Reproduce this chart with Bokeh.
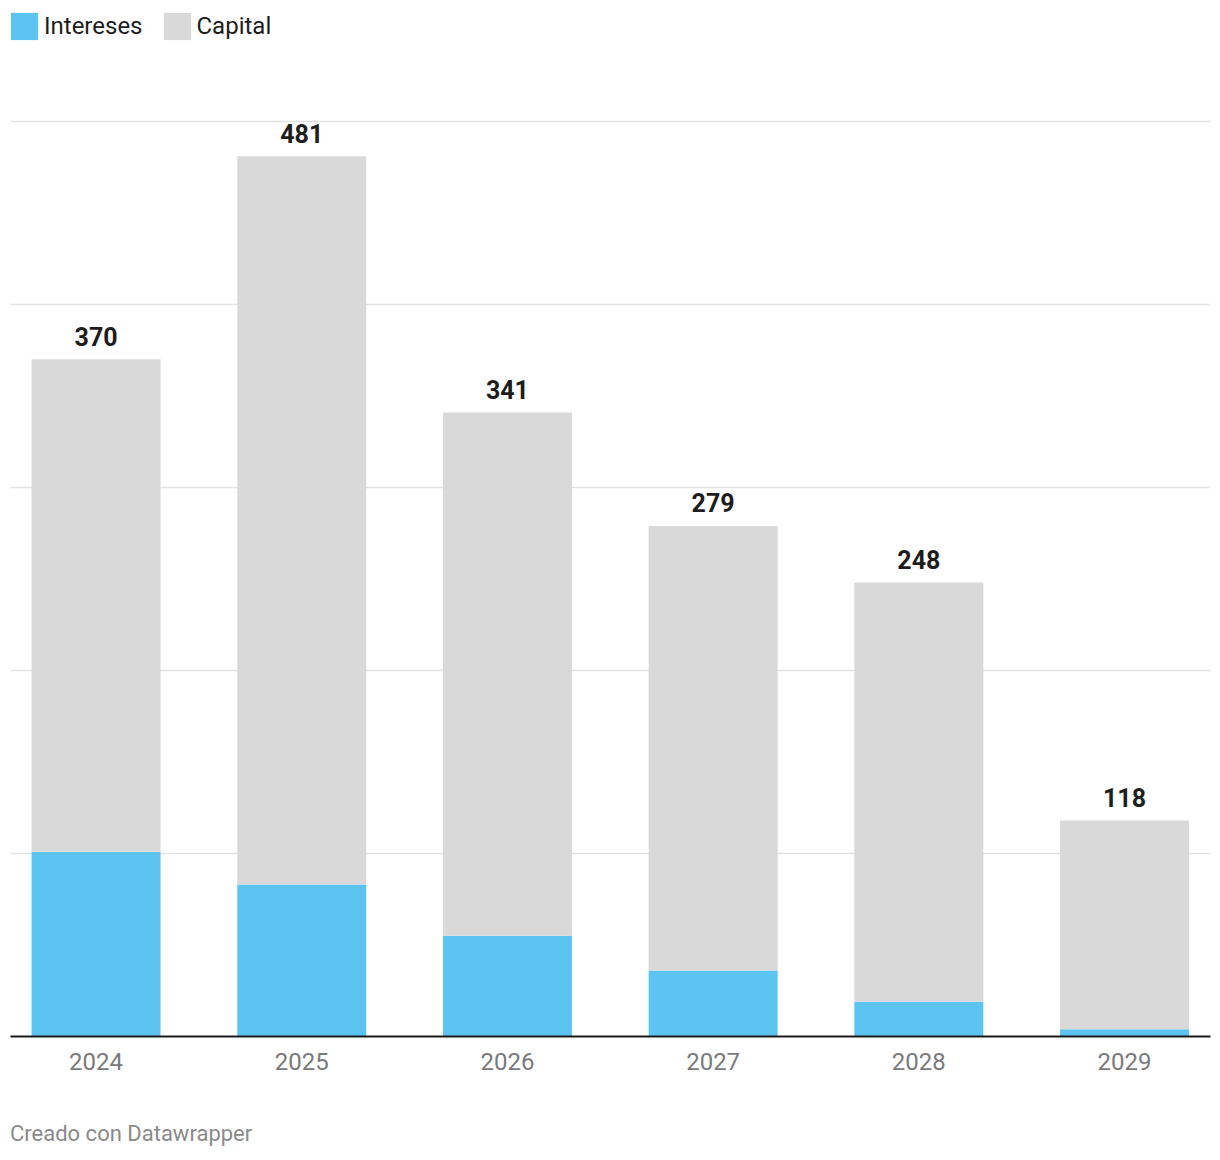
from bokeh.plotting import figure
from bokeh.models import ColumnDataSource, Range1d, Legend, LegendItem, FixedTicker, Div
from bokeh.layouts import column
from bokeh.core.properties import value
from bokeh.embed import file_html
from bokeh.resources import INLINE

years = ["2024", "2025", "2026", "2027", "2028", "2029"]
totals = [370, 481, 341, 279, 248, 118]
intereses = [101, 83, 55, 36, 19, 4]
capital = [269, 398, 286, 243, 229, 114]

xs = list(range(len(years)))
src = ColumnDataSource(dict(x=xs, intereses=intereses, capital=capital,
                            total=totals, lbl=[str(t) for t in totals]))

p = figure(width=1220, height=1080, output_backend="svg", toolbar_location=None,
           x_range=Range1d(-0.416, 5.418), y_range=Range1d(0, 561.7),
           min_border_left=10, min_border_right=10, min_border_top=8, min_border_bottom=44)
p.outline_line_color = None
p.background_fill_color = "white"
p.border_fill_color = "white"

rs = p.vbar_stack(["intereses", "capital"], x="x", width=0.627, source=src,
                  color=["#5bc4f1", "#d9d9d9"], line_color=None)

p.text(x="x", y="total", text="lbl", source=src, text_align="center",
       text_baseline="alphabetic", y_offset=-23, text_font=value("Roboto"),
       text_font_style="bold", text_font_size="25px", text_color="#1d1d1d")

p.yaxis.visible = False
p.xgrid.visible = False
p.ygrid.ticker = FixedTicker(ticks=[100, 200, 300, 400, 500])
p.ygrid.grid_line_color = "#e3e3e3"
p.ygrid.grid_line_width = 1.5

ax = p.xaxis[0]
ax.ticker = FixedTicker(ticks=xs)
ax.major_label_overrides = {i: y for i, y in enumerate(years)}
ax.major_tick_line_color = None
ax.minor_tick_line_color = None
ax.axis_line_color = "#1a1a1a"
ax.axis_line_width = 2
ax.major_label_text_font = "Roboto"
ax.major_label_text_font_size = "24px"
ax.major_label_text_color = "#7a7a7a"
ax.major_label_standoff = 10

legend = Legend(items=[LegendItem(label="Intereses", renderers=[rs[0]]),
                       LegendItem(label="Capital", renderers=[rs[1]])],
                location=(-3, 993), orientation="horizontal",
                margin=0, padding=0, spacing=17, glyph_width=34, glyph_height=34,
                label_standoff=3, label_height=34,
                label_text_font="Roboto", label_text_font_size="24px",
                label_text_color="#1d1d1d", background_fill_alpha=0,
                border_line_color=None)
p.add_layout(legend)

footer = Div(text="Creado con Datawrapper", width=600, height=30,
             margin=(41, 0, 0, 10),
             styles={"font-family": "Roboto", "font-size": "22px",
                     "color": "#8a8a8a", "line-height": "26px"})

layout = column(p, footer, spacing=0)
open("out.html", "w").write(file_html(layout, INLINE))
